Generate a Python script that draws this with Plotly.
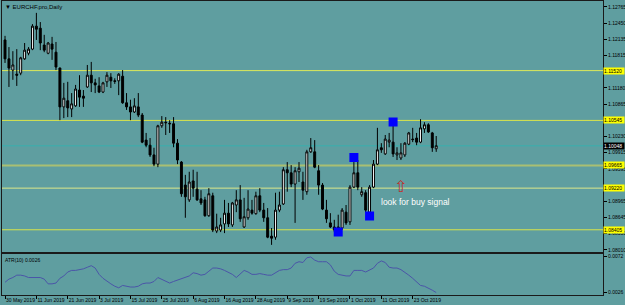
import plotly.graph_objects as go
import pandas as pd

# ---------------- data ----------------
dates = [d.strftime('%Y-%m-%d') for d in pd.bdate_range('2019-05-30', periods=111)]

open_ = [1.1212,1.1175,1.1153,1.1145,1.1147,1.1175,1.1186,1.1194,1.1239,1.1235,
         1.1202,1.1186,1.1204,1.1188,1.1157,1.1081,1.1093,1.1077,1.1083,1.1114,
         1.1102,1.1120,1.1143,1.1128,1.1122,1.1110,1.1130,1.1139,1.1132,1.1132,
         1.1141,1.1089,1.1081,1.1071,1.1081,1.1065,1.1016,1.1006,1.0987,1.0969,
         1.1044,1.1051,1.1049,1.1048,1.1010,1.0973,1.0928,1.0899,1.0936,1.0920,
         1.0901,1.0899,1.0868,1.0907,1.0838,1.0840,1.0852,1.0873,1.0850,1.0889,
         1.0899,1.0846,1.0864,1.0879,1.0872,1.0907,1.0879,1.0864,1.0828,1.0826,
         1.0879,1.0891,1.0958,1.0952,1.0930,1.0954,1.0934,1.0915,1.0993,1.0993,
         1.0956,1.0928,1.0879,1.0854,1.0846,1.0846,1.0844,1.0875,1.0856,1.0924,
         1.0952,1.0909,1.0913,1.0875,1.0924,1.0969,1.1001,1.0989,1.1012,1.1012,
         1.0987,1.0981,1.0987,1.1008,1.1018,1.1020,1.1012,1.1038,1.1046,1.1030,
         1.0999]
high = [1.1220,1.1198,1.1190,1.1194,1.1179,1.1206,1.1198,1.1243,1.1265,1.1247,
        1.1222,1.1208,1.1218,1.1208,1.1158,1.1128,1.1130,1.1108,1.1124,1.1143,
        1.1114,1.1163,1.1169,1.1136,1.1139,1.1130,1.1149,1.1147,1.1137,1.1147,
        1.1153,1.1108,1.1095,1.1098,1.1108,1.1069,1.1030,1.1020,1.1001,1.1046,
        1.1063,1.1061,1.1055,1.1061,1.1018,1.0975,1.0948,1.0954,1.0958,1.0954,
        1.0918,1.0905,1.0922,1.0913,1.0872,1.0864,1.0899,1.0893,1.0895,1.0918,
        1.0928,1.0903,1.0918,1.0899,1.0915,1.0922,1.0893,1.0883,1.0844,1.0913,
        1.0915,1.0963,1.0973,1.0967,1.0963,1.0973,1.0954,1.0997,1.1020,1.1016,
        1.0967,1.0932,1.0899,1.0873,1.0860,1.0870,1.0883,1.0889,1.0928,1.0973,
        1.0977,1.0924,1.0918,1.0928,1.0977,1.1040,1.1010,1.1026,1.1030,1.1049,
        1.1002,1.1010,1.1012,1.1032,1.1040,1.1030,1.1057,1.1051,1.1049,1.1032,
        1.1024]
low = [1.1167,1.1120,1.1134,1.1122,1.1143,1.1173,1.1182,1.1192,1.1212,1.1192,
       1.1188,1.1184,1.1173,1.1153,1.1055,1.1059,1.1061,1.1061,1.1081,1.1081,
       1.1081,1.1118,1.1110,1.1108,1.1108,1.1108,1.1120,1.1118,1.1126,1.1104,
       1.1087,1.1075,1.1055,1.1069,1.1061,1.1010,1.1002,1.0983,1.0965,1.0963,
       1.1040,1.1026,1.1030,1.1002,1.0969,1.0905,1.0864,1.0895,1.0905,1.0897,
       1.0889,1.0866,1.0866,1.0836,1.0834,1.0836,1.0834,1.0846,1.0846,1.0875,
       1.0856,1.0844,1.0860,1.0870,1.0870,1.0875,1.0856,1.0824,1.0811,1.0821,
       1.0875,1.0889,1.0915,1.0924,1.0854,1.0934,1.0899,1.0909,1.0991,1.0961,
       1.0909,1.0879,1.0854,1.0844,1.0836,1.0834,1.0840,1.0850,1.0850,1.0922,
       1.0918,1.0905,1.0875,1.0873,1.0922,1.0967,1.0991,1.0987,1.1002,1.0983,
       1.0977,1.0977,1.0983,1.1006,1.1012,1.1006,1.1010,1.1030,1.1030,1.0993,
       1.0993]
close = [1.1175,1.1157,1.1163,1.1143,1.1177,1.1192,1.1194,1.1239,1.1233,1.1206,
         1.1192,1.1206,1.1194,1.1159,1.1081,1.1098,1.1079,1.1087,1.1116,1.1100,
         1.1098,1.1143,1.1128,1.1124,1.1110,1.1128,1.1143,1.1132,1.1131,1.1145,
         1.1089,1.1081,1.1071,1.1083,1.1065,1.1012,1.1006,1.0987,1.0969,1.1044,
         1.1051,1.1050,1.1048,1.1010,1.0977,1.0911,1.0905,1.0934,1.0922,1.0899,
         1.0893,1.0868,1.0911,1.0840,1.0846,1.0850,1.0873,1.0852,1.0893,1.0899,
         1.0862,1.0866,1.0881,1.0873,1.0907,1.0879,1.0864,1.0826,1.0824,1.0879,
         1.0889,1.0958,1.0952,1.0930,1.0956,1.0961,1.0918,1.0993,1.1001,1.0963,
         1.0928,1.0881,1.0862,1.0846,1.0840,1.0844,1.0879,1.0854,1.0924,1.0952,
         1.0924,1.0915,1.0879,1.0924,1.0969,1.0997,1.0997,1.1018,1.1016,1.0989,
         1.0991,1.0991,1.1010,1.1030,1.1017,1.1012,1.1040,1.1046,1.1032,1.1001,
         1.1005]
atr = [0.0039,0.0043,0.0045,0.0048,0.0048,0.0047,0.0045,0.0045,0.0045,0.0045,
       0.0043,0.0037,0.0037,0.0038,0.0044,0.0047,0.0052,0.0054,0.0054,0.0055,
       0.0056,0.0058,0.0060,0.0057,0.0049,0.0044,0.0040,0.0037,0.0034,0.0032,
       0.0035,0.0034,0.0033,0.0033,0.0034,0.0037,0.0038,0.0038,0.0040,0.0045,
       0.0043,0.0040,0.0038,0.0040,0.0042,0.0043,0.0045,0.0047,0.0051,0.0050,
       0.0048,0.0049,0.0053,0.0057,0.0057,0.0056,0.0054,0.0052,0.0049,0.0045,
       0.0050,0.0054,0.0052,0.0049,0.0049,0.0050,0.0049,0.0048,0.0048,0.0051,
       0.0054,0.0055,0.0055,0.0057,0.0063,0.0065,0.0064,0.0070,0.0071,0.0067,
       0.0065,0.0065,0.0065,0.0061,0.0053,0.0049,0.0048,0.0047,0.0047,0.0054,
       0.0054,0.0054,0.0052,0.0054,0.0057,0.0063,0.0066,0.0064,0.0058,0.0057,
       0.0057,0.0055,0.0052,0.0048,0.0044,0.0040,0.0035,0.0034,0.0032,0.0029,
       0.0026]

price_ticks = [1.12765, 1.12450, 1.12135, 1.11815, 1.11180, 1.10865,
               1.10230, 1.09915, 1.09595, 1.08965, 1.08645, 1.08330, 1.08010]
date_tick_idx = [0, 8, 16, 24, 32, 40, 48, 56, 64, 72, 80, 88, 96, 104]
date_tick_text = ['30 May 2019', '11 Jun 2019', '21 Jun 2019', '3 Jul 2019', '15 Jul 2019',
                  '25 Jul 2019', '6 Aug 2019', '16 Aug 2019', '28 Aug 2019', '9 Sep 2019',
                  '19 Sep 2019', '1 Oct 2019', '11 Oct 2019', '23 Oct 2019']
atr_ticks = [0.0072, 0.0026]

level_prices = [1.11520, 1.10545, 1.09665, 1.09220, 1.08405]
level_colors = ['#dce85a', '#d9e44a', '#a9bf72', '#dde78a', '#d9e44a']
level_widths = [1, 1, 2, 1, 1]
bid_price = 1.10048

signal_idx = [85, 89, 93, 99]
signal_price = [1.08362, 1.09820, 1.08675, 1.10514]
arrow_idx = 101
arrow_price = 1.09252
note_text = 'look for buy signal'
note_pos = 95.4
note_price = 1.0895

BG = '#5F9EA0'
FONT = 'Liberation Sans'

# ---------------- figure ----------------
fig = go.Figure()
fig.add_trace(go.Candlestick(
    x=dates, open=open_, high=high, low=low, close=close,
    increasing=dict(line=dict(color='black', width=1), fillcolor='white'),
    decreasing=dict(line=dict(color='black', width=1), fillcolor='black'),
    xaxis='x', yaxis='y', showlegend=False, hoverinfo='skip'))
fig.add_trace(go.Scatter(
    x=[dates[i] for i in signal_idx], y=signal_price, mode='markers',
    marker=dict(symbol='square', size=9, color='#0000FF', line=dict(width=0)),
    xaxis='x', yaxis='y', showlegend=False, hoverinfo='skip'))
fig.add_trace(go.Scatter(
    x=dates, y=atr, mode='lines', line=dict(color='#4B55A8', width=1),
    xaxis='x2', yaxis='y2', showlegend=False, hoverinfo='skip'))

shapes = []
for p, c, w in zip(level_prices, level_colors, level_widths):
    shapes.append(dict(type='line', xref='paper', x0=0, x1=1, yref='y', y0=p, y1=p,
                       line=dict(color=c, width=w), layer='below'))
shapes.append(dict(type='line', xref='paper', x0=0, x1=1, yref='y', y0=bid_price, y1=bid_price,
                   line=dict(color='#37b0ae', width=1), layer='below'))

annotations = []
for p in level_prices:
    annotations.append(dict(xref='paper', x=1, xanchor='left', xshift=0, yref='y', y=p,
                            text=f'{p:.5f}', showarrow=False, bgcolor='#FFFF00',
                            font=dict(family=FONT, size=5, color='black'),
                            borderpad=0, width=20, height=6, align='left'))
annotations.append(dict(xref='paper', x=1, xanchor='left', yref='y', y=bid_price,
                        text=f'{bid_price:.5f}', showarrow=False, bgcolor='black',
                        font=dict(family=FONT, size=5, color='white'),
                        borderpad=0, width=20, height=6, align='left'))
annotations.append(dict(xref='paper', x=0, xanchor='left', xshift=1, yref='paper', y=1,
                        yanchor='top', yshift=-1, text='▼ EURCHF.pro,Daily', showarrow=False,
                        font=dict(family=FONT, size=6, color='black')))
annotations.append(dict(xref='paper', x=0, xanchor='left', xshift=1, yref='y2 domain', y=1,
                        yanchor='top', yshift=-1, text='ATR(10) 0.0026', showarrow=False,
                        font=dict(family=FONT, size=5, color='black')))
annotations.append(dict(xref='x', x=note_pos, xanchor='left', yref='y', y=note_price,
                        yanchor='middle', text=note_text, showarrow=False,
                        font=dict(family=FONT, size=8.5, color='white')))
annotations.append(dict(xref='x', x=arrow_idx, xanchor='center', yref='y', y=arrow_price,
                        yanchor='middle', text='⇧', showarrow=False,
                        font=dict(family='DejaVu Sans', size=16, color='#c0302c')))

W, H = 625, 305
ml, mr, mt, mb = 2, 22, 1, 10
plot_h = H - mt - mb
main_bottom = 251.5
sub_top = 253.5
main_dom = [(H - mb - main_bottom) / plot_h, 1]
sub_dom = [0, (H - mb - sub_top) / plot_h]
xr = [-0.77, 152.55]

axis_common = dict(showline=True, mirror=True, linecolor='#1a1a1a', linewidth=1,
                   showgrid=False, zeroline=False, automargin=False)

fig.update_layout(
    width=W, height=H, margin=dict(l=ml, r=mr, t=mt, b=mb),
    paper_bgcolor=BG, plot_bgcolor=BG, showlegend=False,
    shapes=shapes, annotations=annotations,
    xaxis=dict(domain=[0, 1], anchor='y', type='category', range=xr,
               showticklabels=False, ticks='', rangeslider=dict(visible=False),
               **axis_common),
    yaxis=dict(domain=main_dom, anchor='x', side='right',
               range=[1.07980, 1.12882], tickvals=price_ticks,
               ticktext=[f'{v:.5f}' for v in price_ticks],
               ticks='outside', ticklen=3, tickcolor='black',
               tickfont=dict(family=FONT, size=5, color='black'), **axis_common),
    xaxis2=dict(domain=[0, 1], anchor='y2', type='category', range=xr,
                tickvals=[dates[i] for i in date_tick_idx], ticktext=date_tick_text,
                ticks='outside', ticklen=3, tickcolor='black', tickangle=0,
                ticklabelposition='outside right',
                tickfont=dict(family=FONT, size=5, color='black'), **axis_common),
    yaxis2=dict(domain=sub_dom, anchor='x2', side='right',
                range=[0.00229, 0.00754], tickvals=atr_ticks,
                ticktext=[f'{v:.4f}' for v in atr_ticks],
                ticks='outside', ticklen=3, tickcolor='black',
                tickfont=dict(family=FONT, size=5, color='black'), **axis_common),
)

fig.write_html('out.html')
